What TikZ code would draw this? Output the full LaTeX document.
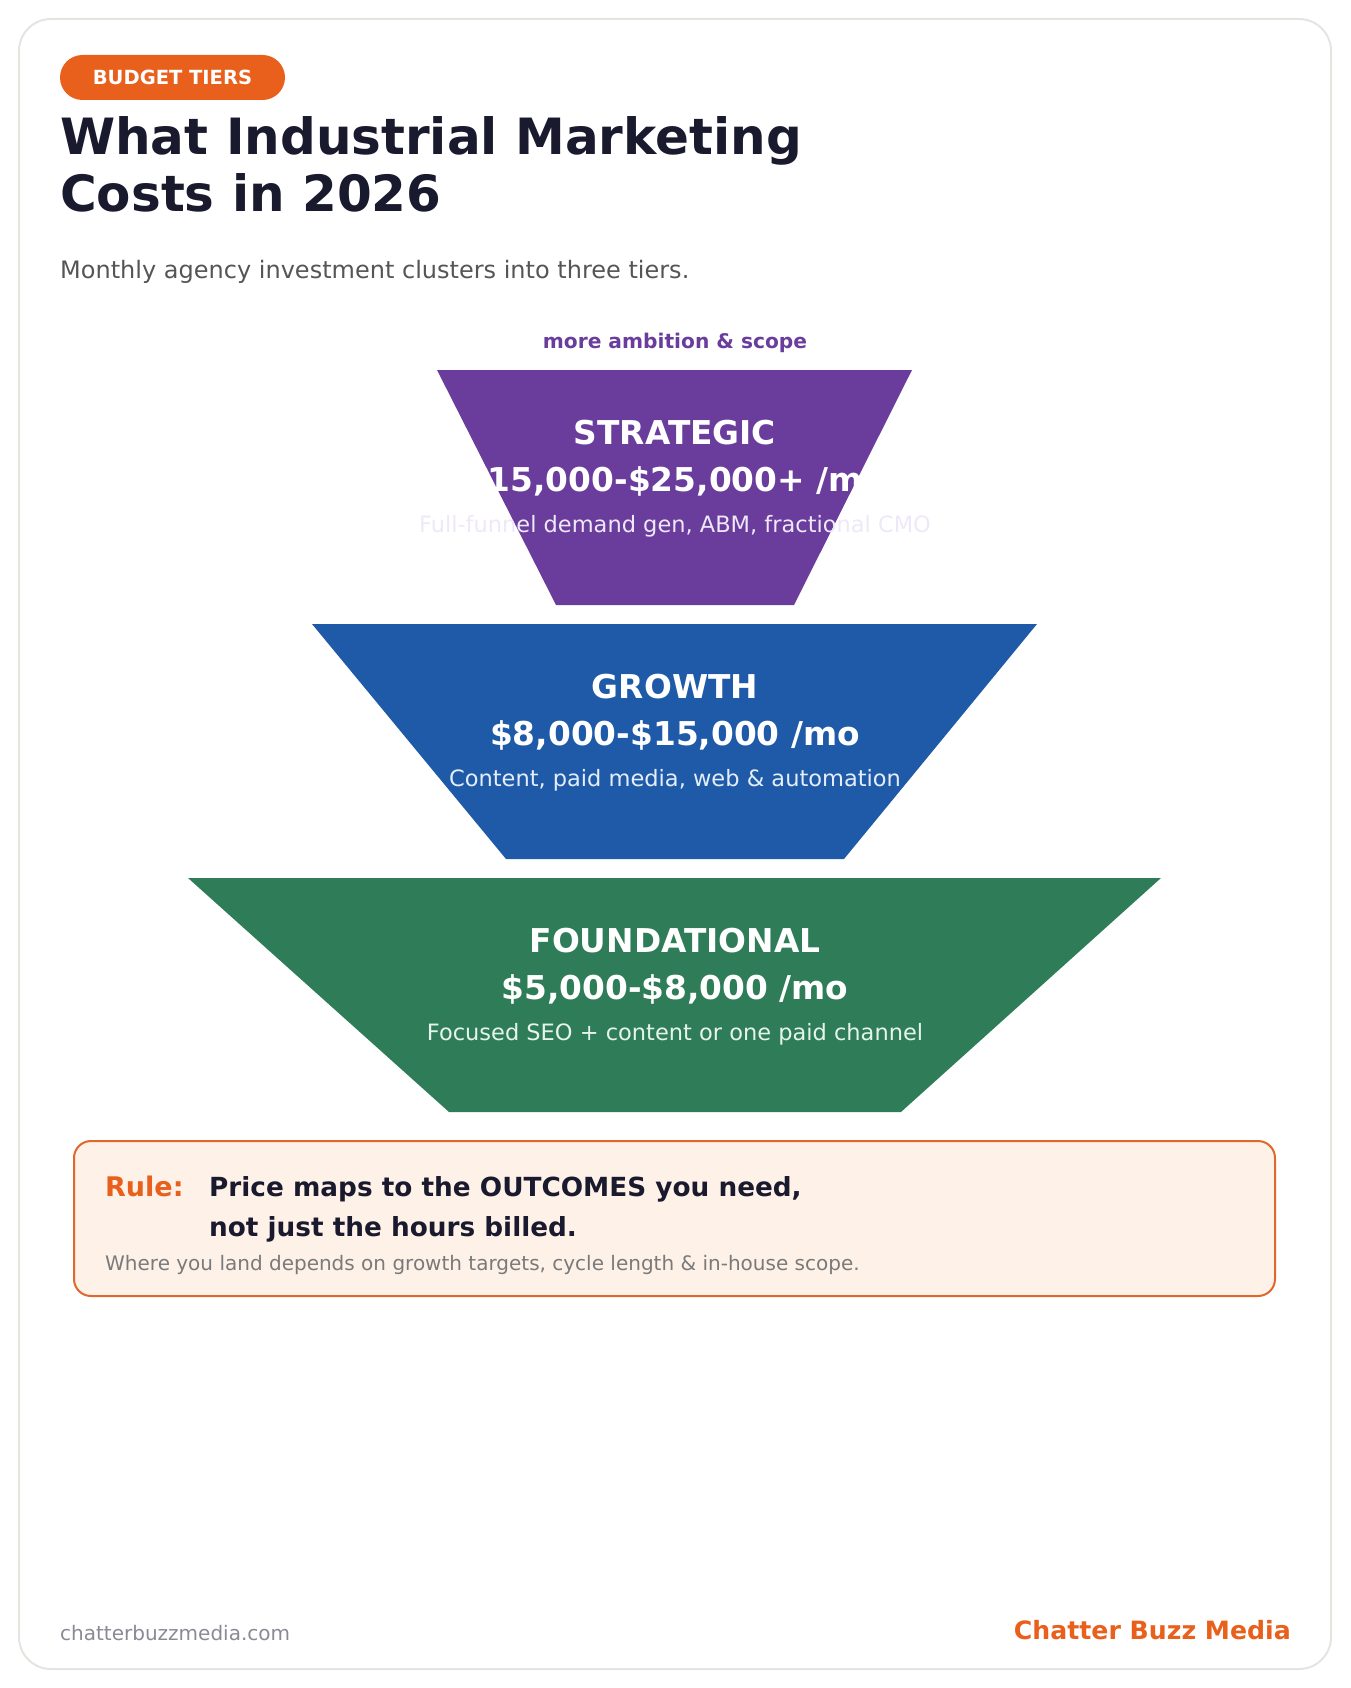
\documentclass[tikz,border=0pt]{standalone}
\usepackage{fontspec}
\setmainfont{DejaVu Sans}
\usetikzlibrary{positioning}

\definecolor{brandorange}{HTML}{E8601C}
\definecolor{inkdark}{HTML}{1A1A2E}
\definecolor{subgray}{HTML}{555555}
\definecolor{notegray}{HTML}{7A7A7A}
\definecolor{sitegray}{HTML}{8A8A94}
\definecolor{cardline}{HTML}{E6E4E0}
\definecolor{stratcol}{HTML}{6A3D9C}
\definecolor{growcol}{HTML}{1F5AA8}
\definecolor{foundcol}{HTML}{2E7D58}
\definecolor{stratlight}{HTML}{EEE8F8}
\definecolor{growlight}{HTML}{E4EEFB}
\definecolor{foundlight}{HTML}{E6F4EC}
\definecolor{rulefill}{HTML}{FEF1E8}
\definecolor{ruleline}{HTML}{E0682C}

\tikzset{
  tierhead/.style={font=\bfseries\fontsize{32.8}{38}\selectfont, text=white, inner sep=0pt},
  tierprice/.style={font=\bfseries\fontsize{32.8}{38}\selectfont, text=white, inner sep=0pt},
  tierdesc/.style={font=\fontsize{22.5}{26}\selectfont, inner sep=0pt},
  plaintext/.style={inner sep=0pt, anchor=base west},
  rulebox/.style={draw=ruleline, line width=2pt, fill=rulefill, rounded corners=17pt},
}

\begin{document}
\begin{tikzpicture}[x=1pt, y=-1pt]
        \useasboundingbox (0,0) rectangle (1350,1688);
        % card
        \draw[cardline, line width=2pt, rounded corners=32pt] (19,19) rectangle (1331,1669);

        % header
        \node[fill=brandorange, text=white, font=\bfseries\fontsize{19.5}{22}\selectfont, rounded corners=22.5pt,
              minimum width=225pt, minimum height=45pt, text height=13.9pt, text depth=0pt, inner sep=0pt]
              (badge) at (172.5,77.5) {BUDGET TIERS}; %
        \node[plaintext, text=inkdark, font=\bfseries\fontsize{50}{56}\selectfont] (title_a) at (60,155) {What Industrial Marketing}; %
        \node[plaintext, text=inkdark, font=\bfseries\fontsize{50}{56}\selectfont, below=57pt of title_a.base west, anchor=base west] (title_b) {Costs in 2026}; %
        \node[plaintext, text=subgray, font=\fontsize{24}{28}\selectfont] (subtitle) at (60,279) {Monthly agency investment clusters into three tiers.}; %

        % tiers
        \fill[stratcol] (437,370) -- (912,370) -- (794,605) -- (556,605) -- cycle;
        \fill[growcol] (312,624) -- (1037,624) -- (844,859) -- (506,859) -- cycle;
        \fill[foundcol] (188,878) -- (1161,878) -- (901,1112) -- (449,1112) -- cycle;
        \coordinate (strat) at (675,370);
        \coordinate (grow) at (675,624);
        \coordinate (found) at (675,878);

        \node[text=stratcol, font=\bfseries\fontsize{20.2}{24}\selectfont, inner sep=0pt, above=22pt of strat, anchor=base] (scope) {more ambition \& scope}; %

        \node[tierhead, below=74pt of strat, anchor=base] (strat_head) {STRATEGIC}; %
        \node[tierprice, below=47pt of strat_head.base, anchor=base] (strat_price) {\$15,000-\$25,000+ /mo}; %
        \node[tierdesc, text=stratlight, below=41pt of strat_price.base, anchor=base] (strat_desc) {Full-funnel demand gen, ABM, fractional CMO}; %

        \node[tierhead, below=74pt of grow, anchor=base] (grow_head) {GROWTH}; %
        \node[tierprice, below=47pt of grow_head.base, anchor=base] (grow_price) {\$8,000-\$15,000 /mo}; %
        \node[tierdesc, text=growlight, below=41pt of grow_price.base, anchor=base] (grow_desc) {Content, paid media, web \& automation}; %

        \node[tierhead, below=74pt of found, anchor=base] (found_head) {FOUNDATIONAL}; %
        \node[tierprice, below=47pt of found_head.base, anchor=base] (found_price) {\$5,000-\$8,000 /mo}; %
        \node[tierdesc, text=foundlight, below=41pt of found_price.base, anchor=base] (found_desc) {Focused SEO + content or one paid channel}; %

        % rule box
        \node[rulebox, minimum width=1201pt, minimum height=155pt] (rule) at (674.5,1218.5) {};
        \node[plaintext, text=brandorange, font=\bfseries\fontsize{27}{32}\selectfont, below right=56pt and 32pt of rule.north west, anchor=base west] (rule_tag) {Rule:}; %
        \node[plaintext, text=inkdark, font=\bfseries\fontsize{26.3}{30}\selectfont, below right=56pt and 136pt of rule.north west, anchor=base west] (rule_a) {Price maps to the OUTCOMES you need,}; %
        \node[plaintext, text=inkdark, font=\bfseries\fontsize{26.3}{30}\selectfont, below=40pt of rule_a.base west, anchor=base west] (rule_b) {not just the hours billed.}; %
        \node[plaintext, text=notegray, font=\fontsize{20}{24}\selectfont, below right=130pt and 32pt of rule.north west, anchor=base west] (rule_note) {Where you land depends on growth targets, cycle length \& in-house scope.}; %

        % footer
        \node[plaintext, text=sitegray, font=\fontsize{20}{24}\selectfont] (site) at (60,1640) {chatterbuzzmedia.com}; %
        \node[inner sep=0pt, anchor=base east, text=brandorange, font=\bfseries\fontsize{25.2}{30}\selectfont] (brand) at (1291,1639) {Chatter Buzz Media}; %
    \end{tikzpicture}
\end{document}
